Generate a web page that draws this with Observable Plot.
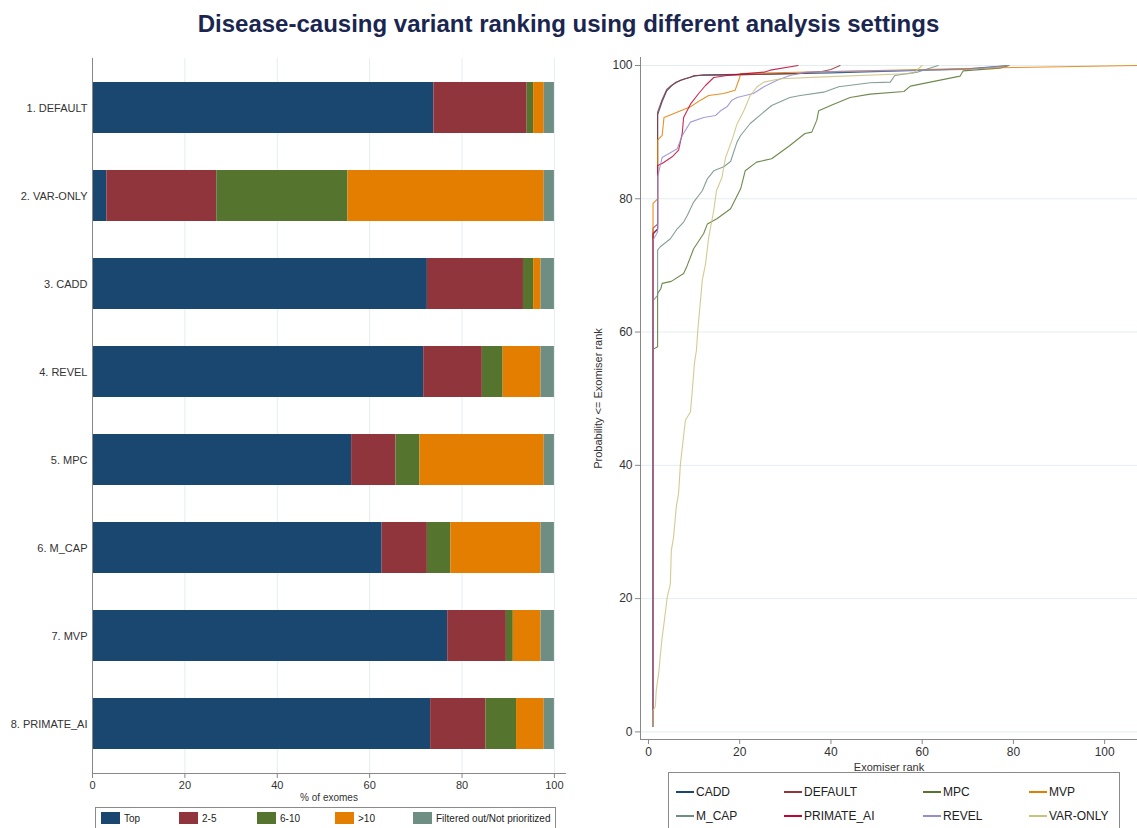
<!DOCTYPE html>
<html><head><meta charset="utf-8">
<script src="https://cdn.jsdelivr.net/npm/d3@7"></script>
<script src="https://cdn.jsdelivr.net/npm/@observablehq/plot@0.6"></script>
<style>
body{margin:0;background:#fff;font-family:"Liberation Sans",Arial,sans-serif;}
#wrap{position:relative;width:1137px;height:828px;overflow:hidden;background:#fff;}
#title{position:absolute;left:0;width:1137px;top:10px;text-align:center;font-weight:bold;font-size:24px;font-family:"Liberation Sans",Arial,sans-serif;color:#1a2650;}
#left{position:absolute;left:0;top:40px;}
#right{position:absolute;left:570px;top:40px;}
.legend{position:absolute;border:1px solid #8a8a8a;background:#fff;color:#222;box-sizing:border-box;}
.item{position:absolute;display:flex;align-items:center;white-space:nowrap;}
.sw{display:inline-block;width:19px;height:12px;margin-right:4px;}
.ln{display:inline-block;width:18px;height:2px;margin-right:2px;}
</style></head>
<body><div id="wrap">
<div id="title">Disease-causing variant ranking using different analysis settings</div>
<div id="left"></div>
<div id="right"></div>
<div id="legL" class="legend" style="left:95px;top:807px;width:461px;height:23px;font-size:10px;"></div>
<div id="legR" class="legend" style="left:668px;top:772px;width:452px;height:58px;font-size:12px;"></div>
</div>
<script>
// ---------- Left chart data (% of exomes) ----------
const settings = ["1. DEFAULT","2. VAR-ONLY","3. CADD","4. REVEL","5. MPC","6. M_CAP","7. MVP","8. PRIMATE_AI"];
const rankGroups = ["Top","2-5","6-10",">10","Filtered out/Not prioritized"];
const groupColors = ["#1a476f","#90353b","#55752f","#e37e00","#6e8e84"];
const pctTop      = [73.9, 3.1, 72.5, 71.7, 56.1, 62.7, 76.9, 73.2];
const pct2to5     = [20.2, 23.8, 20.8, 12.7, 9.6, 9.8, 12.7, 12.0];
const pct6to10    = [1.4, 28.4, 2.2, 4.5, 5.2, 5.1, 1.5, 6.6];
const pctOver10   = [2.3, 42.5, 1.6, 8.2, 26.9, 19.5, 6.0, 6.0];
const pctFiltered = [2.2, 2.2, 2.9, 2.9, 2.2, 2.9, 2.9, 2.2];
const xTicksLeft = [0,20,40,60,80,100];

// ---------- Right chart data: [Exomiser rank, cumulative probability] ----------
const seriesNames = ["CADD","DEFAULT","MPC","MVP","M_CAP","PRIMATE_AI","REVEL","VAR-ONLY"];
const seriesColors = ["#1a476f","#90353b","#55752f","#e37e00","#6e8e84","#c10534","#938dd2","#cac27e"];
const cadd = [[1,0.8],[1,74.7],[2,75.4],[2,92.6],[3,94.6],[4,96.2],[5,96.9],[6,97.5],[8,98.0],[10,98.4],[12,98.6],[25,98.7],[40,98.9],[55,99.2],[70,99.5],[79,100]];
const deflt = [[1,0.8],[1,75.6],[2,76.2],[2,93.0],[3,94.9],[4,96.4],[5,97.0],[7,97.8],[9,98.2],[10,98.5],[20,98.6],[33,98.8],[38,99.1],[40,99.4],[42,100]];
const mpc = [[1,0.8],[1,57.4],[2,57.8],[2,65.8],[2.7,66.5],[3,67.3],[5,67.6],[7.7,68.8],[8.5,70.0],[9.9,72.5],[12.1,74.8],[12.9,76.2],[15,77.0],[18,78.5],[20.2,81.5],[21.2,84.2],[23.7,85.5],[27,86.0],[31,88.0],[34.3,89.8],[35.8,90.0],[36.9,91.8],[37.3,93.2],[40.6,94.2],[44.2,95.2],[48.6,95.7],[56,96.1],[57.4,96.9],[68.3,98.4],[69,99.2],[77,99.6],[79,100]];
const mvp = [[1,0.8],[1,79.3],[2,80.0],[2,88.8],[3,89.5],[3.4,92.2],[4.5,92.5],[9.2,93.8],[11.4,94.8],[13.2,95.5],[16.5,95.8],[19,96.3],[20,98.2],[20.2,98.8],[40,99.1],[60,99.4],[80,99.7],[107,100]];
const mcap = [[1,0.8],[1,64.7],[2,65.5],[2,72.3],[2.6,72.8],[4.8,74.0],[6.3,75.5],[7.7,76.5],[8.5,77.5],[9.9,79.5],[11.8,81.2],[12.9,83.0],[14.3,84.2],[16.5,84.8],[18,85.6],[19.4,88.5],[20.2,89.5],[22.3,91.3],[27,94.0],[31,95.2],[33.3,95.5],[38.4,96.0],[41.7,96.8],[48.6,97.4],[53,97.5],[54,98.5],[58.9,99.0],[63.5,100]];
const primateAi = [[1,0.8],[1,74.8],[2,75.5],[2,85.0],[3,85.3],[5.2,86.3],[6.6,87.3],[7.4,89.8],[7.7,92.2],[9.2,94.2],[11,95.8],[12.5,97.0],[14.3,98.2],[17.2,98.5],[20.2,98.7],[25.3,99.0],[26.7,99.3],[32.8,100]];
const revel = [[1,0.8],[1,73.8],[2,75.0],[2,83.3],[3,86.2],[6.3,87.5],[7.4,89.5],[9.2,91.5],[12.1,92.2],[14.7,92.5],[15.8,93.2],[17.2,93.8],[18.3,94.8],[19.4,95.2],[23,95.8],[25.3,96.8],[28.2,97.8],[31,98.5],[34.7,99.0],[50,99.2],[70,99.4],[79,100]];
const varOnly = [[1,0.8],[1,3.2],[1.5,3.8],[1.7,6.2],[2.3,9.2],[2.6,11.5],[3,14.2],[3.5,16.8],[4.1,20.2],[4.8,22.2],[5,27.2],[5.5,29.2],[6.1,33.8],[6.6,35.8],[7,40.2],[7.6,43.8],[8.1,46.8],[9.2,48.0],[9.6,51.2],[10.1,55.5],[10.5,57.2],[10.8,60.2],[11.8,67.8],[12.5,70.2],[13.2,74.2],[14.3,78.2],[14.9,81.2],[16.1,83.2],[16.9,86.2],[18.3,88.8],[19.4,91.2],[20.9,93.2],[22.3,95.5],[23.8,96.8],[25.3,97.5],[28.9,98.0],[38.4,98.3],[58,98.8],[60,100]];
const yTicksRight = [0,20,40,60,80,100];
const xTicksRight = [0,20,40,60,80,100];

// ---------- Build tables ----------
const groupValues = [pctTop, pct2to5, pct6to10, pctOver10, pctFiltered];
const bars = [];
settings.forEach((s, i) => rankGroups.forEach((g, j) => bars.push({setting: s, group: g, value: groupValues[j][i]})));
const seriesPts = [cadd, deflt, mpc, mvp, mcap, primateAi, revel, varOnly];
const lines = seriesPts.flatMap((pts, i) => pts.map(([r, p]) => ({name: seriesNames[i], rank: r, prob: p})));

const axisStyle = {fontFamily: "'Liberation Sans', Arial, sans-serif", color: "#333", background: "transparent"};

// ---------- Left: stacked bars ----------
const left = Plot.plot({
  width: 570, height: 763,
  marginLeft: 92, marginRight: 5, marginTop: 18, marginBottom: 30,
  style: {...axisStyle, fontSize: "11px"},
  x: {domain: [0, 102.4]},
  y: {domain: settings, paddingInner: 0.416, paddingOuter: 0.225},
  color: {domain: rankGroups, range: groupColors},
  marks: [
    Plot.gridX(xTicksLeft.slice(1), {stroke: "#e3edf0", strokeOpacity: 1}),
    Plot.barX(bars, {x: "value", y: "setting", fill: "group", order: null}),
    Plot.frame({anchor: "left", stroke: "#888"}),
    Plot.frame({anchor: "bottom", stroke: "#888"}),
    Plot.axisY({tickSize: 0, tickPadding: 5, label: null, fontSize: 11}),
    Plot.axisX({ticks: xTicksLeft, tickSize: 5, tickPadding: 3, stroke: "#888", label: null}),
    Plot.axisX({ticks: [], tickSize: 0, label: "% of exomes", labelAnchor: "center", labelArrow: "none", labelOffset: 27, fontSize: 10})
  ]
});
document.getElementById("left").appendChild(left);

// ---------- Right: cumulative lines ----------
const right = Plot.plot({
  width: 567, height: 732,
  marginLeft: 70, marginRight: 0, marginTop: 17, marginBottom: 33,
  style: {...axisStyle, fontSize: "12px"},
  x: {domain: [-1.75, 107.2]},
  y: {domain: [-1.14, 101.2]},
  color: {domain: seriesNames, range: seriesColors},
  marks: [
    Plot.gridY(yTicksRight, {stroke: "#e3edf0", strokeOpacity: 1}),
    Plot.line(lines, {x: "rank", y: "prob", z: "name", stroke: "name", strokeWidth: 1.1, strokeOpacity: 0.85, curve: "linear"}),
    Plot.frame({anchor: "left", stroke: "#888"}),
    Plot.frame({anchor: "bottom", stroke: "#888"}),
    Plot.axisY({ticks: yTicksRight, tickSize: 5, tickPadding: 3, stroke: "#888", label: null}),
    Plot.axisY({ticks: [], tickSize: 0, label: "Probability <= Exomiser rank", labelAnchor: "center", labelArrow: "none", labelOffset: 46, fontSize: 11}),
    Plot.axisX({ticks: xTicksRight, tickSize: 5, tickPadding: 3, stroke: "#888", label: null}),
    Plot.axisX({ticks: [], tickSize: 0, label: "Exomiser rank", labelAnchor: "center", labelArrow: "none", labelOffset: 31, fontSize: 11})
  ]
});
document.getElementById("right").appendChild(right);

// ---------- Legends ----------
const legL = document.getElementById("legL");
rankGroups.forEach((g, j) => {
  const d = document.createElement("div");
  d.className = "item";
  d.style.left = (5 + j * 78) + "px";
  d.style.top = "4px";
  d.innerHTML = `<span class="sw" style="background:${groupColors[j]}"></span><span>${g.replace(">", "&gt;")}</span>`;
  legL.appendChild(d);
});
const legR = document.getElementById("legR");
const colX = [7, 115, 254, 360];
seriesNames.forEach((n, i) => {
  const d = document.createElement("div");
  d.className = "item";
  d.style.left = colX[i % 4] + "px";
  d.style.top = (i < 4 ? 12 : 36) + "px";
  d.innerHTML = `<span class="ln" style="background:${seriesColors[i]}"></span><span>${n}</span>`;
  legR.appendChild(d);
});
</script>
</body></html>
